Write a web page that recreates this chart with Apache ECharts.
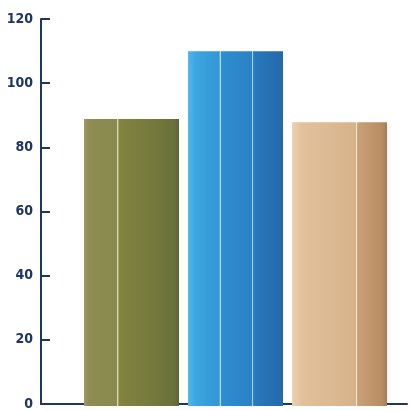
<!DOCTYPE html>
<html><head><meta charset="utf-8">
<script src="https://cdn.jsdelivr.net/npm/echarts@6/dist/echarts.min.js"></script>
<style>html,body{margin:0;padding:0;background:#fff}#c{width:411px;height:411px}</style>
</head><body><div id="c"></div>
<script>
const categories = ['A', 'B', 'C'];
const values = [89, 110, 88];
const yTicks = [0, 20, 40, 60, 80, 100, 120];

const axisColor = '#1f3563';
function stripes(stops) {
  const cs = [];
  stops.forEach(s => cs.push({offset: s[0], color: s[1]}));
  return {type: 'linear', x: 0, y: 0, x2: 1, y2: 0, colorStops: cs};
}
const barColors = [
  stripes([[0,'#9c9a60'],[0.05,'#8e8c52'],[0.345,'#888a4e'],[0.35,'#d8d8b8'],[0.36,'#d8d8b8'],[0.365,'#82843f'],[0.7,'#767a3c'],[0.95,'#68703a'],[1,'#5c6434']]),
  stripes([[0,'#52b8ec'],[0.08,'#3ca6e0'],[0.33,'#3296d4'],[0.335,'#b0daf4'],[0.345,'#b0daf4'],[0.35,'#2e8ecf'],[0.67,'#2a82c6'],[0.675,'#a8d0ee'],[0.685,'#a8d0ee'],[0.69,'#287abe'],[1,'#2468aa']]),
  stripes([[0,'#ecd2b0'],[0.1,'#e2c29c'],[0.67,'#d6b28a'],[0.675,'#f4e6d4'],[0.685,'#f4e6d4'],[0.69,'#c9a078'],[0.95,'#b88c62'],[1,'#a67c54']])
];

const chart = echarts.init(document.getElementById('c'));
chart.setOption({
  animation: false,
  grid: [
    {left: 41, right: 4, top: 19, bottom: 5},
    {left: 79.5, width: 312, top: 19, bottom: 5}
  ],
  xAxis: [
    {gridIndex: 0, type: 'category', data: [''], axisLine: {lineStyle: {color: axisColor, width: 2}}, axisTick: {show: false}, axisLabel: {show: false}},
    {gridIndex: 1, type: 'category', data: categories, show: false}
  ],
  yAxis: [
    {gridIndex: 0, type: 'value', min: 0, max: 120, interval: 20,
      axisLine: {show: true, lineStyle: {color: axisColor, width: 2}},
      axisTick: {show: true, inside: true, length: 9, lineStyle: {color: axisColor, width: 2}},
      splitLine: {show: false},
      axisLabel: {color: axisColor, fontFamily: '"DejaVu Sans Condensed", "Liberation Sans Narrow", sans-serif', fontWeight: 'bold', fontSize: 14, margin: 8,
        formatter: v => yTicks.includes(v) ? String(v) : ''}},
    {gridIndex: 1, type: 'value', min: 0, max: 120, show: false}
  ],
  series: [{
    type: 'bar', xAxisIndex: 1, yAxisIndex: 1, barWidth: 95,
    data: values.map((v, i) => ({value: v, itemStyle: {color: barColors[i]}}))
  }]
});
</script></body></html>
